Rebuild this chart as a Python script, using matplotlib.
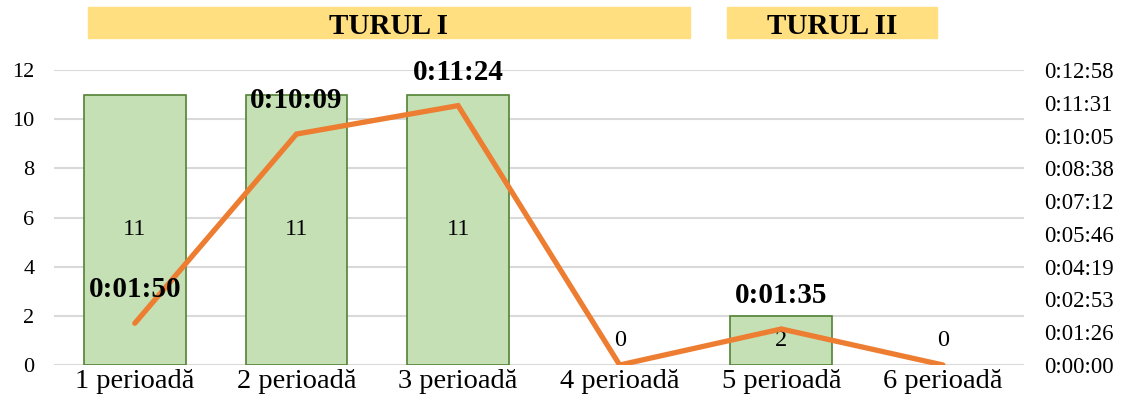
import numpy as np
import matplotlib
matplotlib.use('Agg')
import matplotlib.pyplot as plt
from matplotlib.patches import Rectangle
from matplotlib.ticker import FuncFormatter, MultipleLocator

plt.rcParams['font.family'] = ['Liberation Serif', 'DejaVu Serif']

# ==== data ====
categories = ['1 perioadă', '2 perioadă', '3 perioadă',
              '4 perioadă', '5 perioadă', '6 perioadă']
counts = [11, 11, 11, 0, 2, 0]
# durations in seconds
durations = [110, 609, 684, 0, 95, 0]
rounds = ['TURUL I', 'TURUL II']

DAY = 86400.0


def hms(sec, pos=None):
    s = int(round(sec))
    return '%d:%02d:%02d' % (s // 3600, (s % 3600) // 60, s % 60)


fig = plt.figure(figsize=(11.25, 4.15), dpi=100)
ax = fig.add_axes([0.048, 0.1205, 0.862, 0.7105])
ax2 = ax.twinx()

x = np.arange(len(categories))
bars = ax.bar(x, counts, width=0.63, color='#C5E0B4', edgecolor='#548235',
              linewidth=1.2, zorder=2)
for b, c in zip(bars, counts):
    if c == 0:
        b.set_linewidth(0)
for xi, c in zip(x, counts):
    ypos = c / 2 if c > 1 else c + 1.0
    ax.text(xi, ypos, str(c), ha='center', va='center', fontsize=17.5, zorder=3)

ax.set_ylim(0, 12)
ax.set_xlim(-0.5, len(categories) - 0.5)
ax.yaxis.set_major_locator(MultipleLocator(2))
ax.grid(axis='y', color='#D9D9D9', linewidth=1.5, zorder=0)
ax.set_axisbelow(True)
ax.set_xticks(x)
ax.set_xticklabels(categories)
ax.tick_params(axis='both', length=0, labelsize=16)
ax.tick_params(axis='x', labelsize=20.5, pad=3)
ax.tick_params(axis='y', pad=14)
for sp in ax.spines.values():
    sp.set_visible(False)

ax2.plot(x, durations, color='#ED7D31', linewidth=3.8,
         solid_capstyle='round', solid_joinstyle='miter', zorder=4)
ax2.set_ylim(0, 0.009 * DAY)
ax2.yaxis.set_major_locator(MultipleLocator(0.001 * DAY))
ax2.yaxis.set_major_formatter(FuncFormatter(hms))
ax2.tick_params(axis='y', length=0, labelsize=16.5, pad=15)
for sp in ax2.spines.values():
    sp.set_visible(False)
for xi, d in zip(x, durations):
    if d > 0:
        ax2.annotate(hms(d), (xi, d), xytext=(0, 24), textcoords='offset points',
                     ha='center', va='center', fontsize=21, fontweight='bold',
                     zorder=5)

# round bands on top
bands = [(0.078, 0.613), (0.646, 0.833)]
for (x0, x1), name in zip(bands, rounds):
    fig.patches.append(Rectangle((x0, 0.909), x1 - x0, 0.073,
                                 transform=fig.transFigure,
                                 color='#FFDF80', zorder=0))
    fig.text((x0 + x1) / 2, 0.944, name, ha='center', va='center_baseline',
             fontsize=21, fontweight='bold')

fig.savefig('out.png', dpi=100)
